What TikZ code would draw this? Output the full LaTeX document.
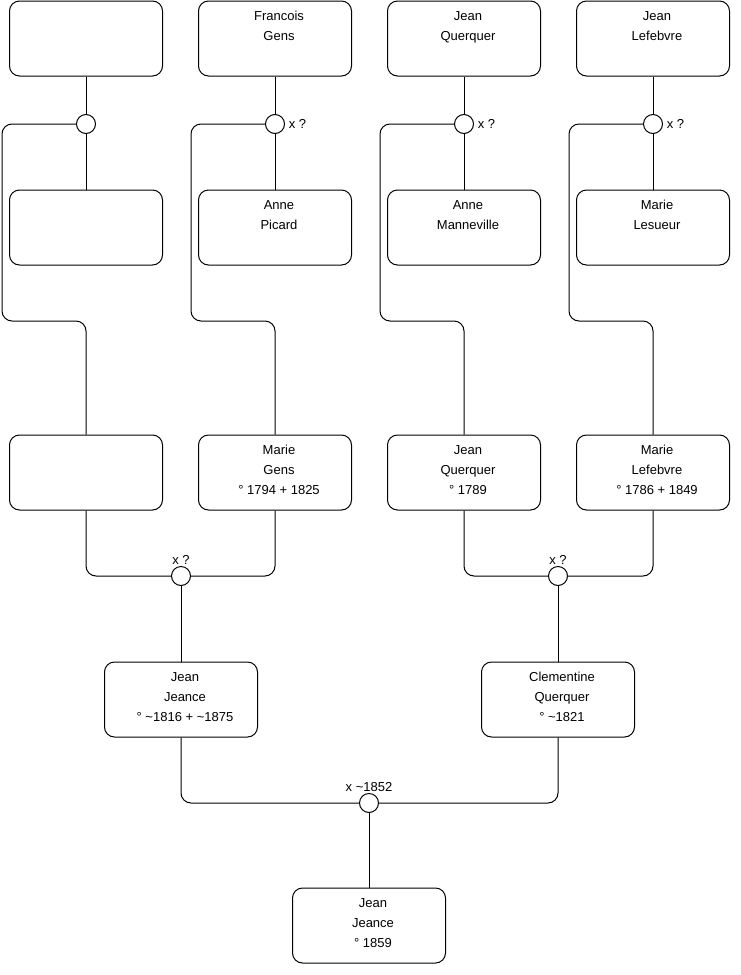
\documentclass[tikz,border=0pt]{standalone}
\usepackage{fontspec}
\setmainfont{Liberation Sans}
\newcommand\ptxt[1]{\parbox[t][62pt][t]{140pt}{\centering\leftskip=8pt plus 1fil\fontsize{13}{20}\selectfont\rule{0pt}{13pt}#1}}
\begin{document}
\begin{tikzpicture}[x=1pt,y=-1pt,line width=1pt,
  person/.style={draw,rounded corners=10pt,minimum width=150pt,minimum height=75pt,inner sep=6.5pt},
  union/.style={draw,circle,minimum size=19pt,inner sep=0pt,fill=white},
  link/.style={draw,rounded corners=10pt},
  lbl/.style={font=\fontsize{13}{15}\selectfont}]
\useasboundingbox (0,0) rectangle (740,975);
% row 1
\node[person] (A1) at (86,38.5) {\ptxt{}};
\node[person] (B1) at (275,38.5) {\ptxt{Francois\\Gens}};
\node[person] (C1) at (464,38.5) {\ptxt{Jean\\Querquer}};
\node[person] (D1) at (653,38.5) {\ptxt{Jean\\Lefebvre}};
% row 2
\node[person] (A2) at (86,227.5) {\ptxt{}};
\node[person] (B2) at (275,227.5) {\ptxt{Anne\\Picard}};
\node[person] (C2) at (464,227.5) {\ptxt{Anne\\Manneville}};
\node[person] (D2) at (653,227.5) {\ptxt{Marie\\Lesueur}};
% row 3
\node[person] (A3) at (86,472.5) {\ptxt{}};
\node[person] (B3) at (275,472.5) {\ptxt{Marie\\Gens\\° 1794 + 1825}};
\node[person] (C3) at (464,472.5) {\ptxt{Jean\\Querquer\\° 1789}};
\node[person] (D3) at (653,472.5) {\ptxt{Marie\\Lefebvre\\° 1786 + 1849}};
% row 4
\node[person] (E) at (181,699.5) {\ptxt{Jean\\Jeance\\° \textasciitilde1816 + \textasciitilde1875}};
\node[person] (F) at (558,699.5) {\ptxt{Clementine\\Querquer\\° \textasciitilde1821}};
% row 5
\node[person] (G) at (369,925.5) {\ptxt{Jean\\Jeance\\° 1859}};
% unions
\node[union] (mA) at (86,124) {};
\node[union,label={[lbl,label distance=0pt]right:x ?}] (mB) at (275,124) {};
\node[union,label={[lbl,label distance=0pt]right:x ?}] (mC) at (464,124) {};
\node[union,label={[lbl,label distance=0pt]right:x ?}] (mD) at (653,124) {};
\node[union,label={[lbl,label distance=-2pt]above:x ?}] (mE) at (181,576) {};
\node[union,label={[lbl,label distance=-2pt]above:x ?}] (mF) at (558,576) {};
\node[union,label={[lbl,label distance=-2pt]above:x \textasciitilde1852}] (mG) at (369,803) {};
% bend points
\coordinate (kA) at (2,321);
\coordinate (kB) at (191,321);
\coordinate (kC) at (380,321);
\coordinate (kD) at (569,321);
% top families
\foreach \p in {A,B,C,D}{
  \draw (\p1.south) -- (m\p.north);
  \draw (m\p.south) -- (\p2.north);
  \path[link] (m\p.west) -| (k\p) -| (\p3.north);
}
% middle
\path[link] (A3.south) |- (mE.west);
\path[link] (B3.south) |- (mE.east);
\draw (mE.south) -- (E.north);
\path[link] (C3.south) |- (mF.west);
\path[link] (D3.south) |- (mF.east);
\draw (mF.south) -- (F.north);
% bottom
\path[link] (E.south) |- (mG.west);
\path[link] (F.south) |- (mG.east);
\draw (mG.south) -- (G.north);
\end{tikzpicture}
\end{document}
